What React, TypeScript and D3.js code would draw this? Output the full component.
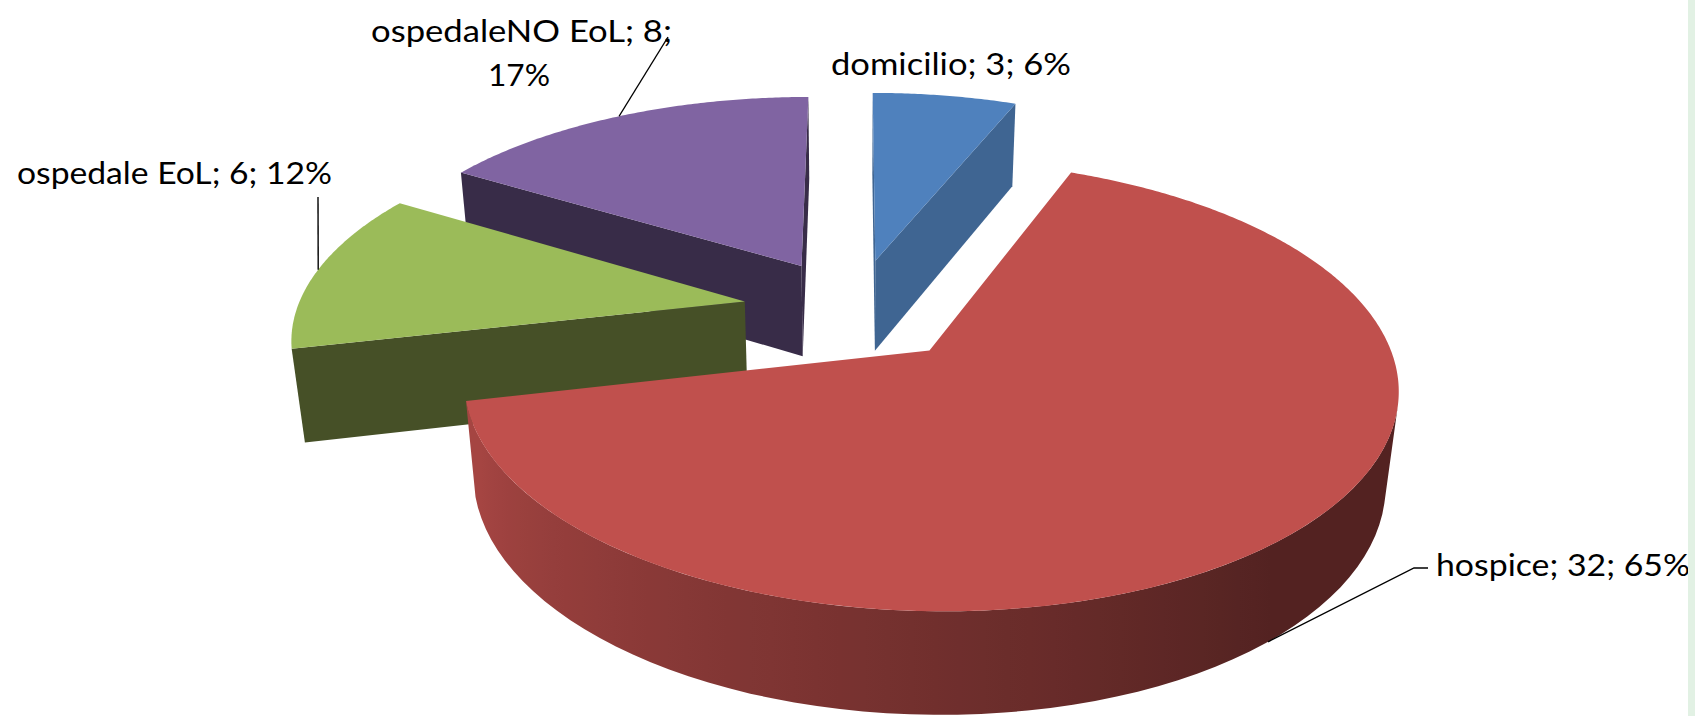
import React from 'react';
import * as d3 from 'd3';

// ---- data ----
const categories = ['domicilio', 'hospice', 'ospedale EoL', 'ospedaleNO EoL'];
const values = [3, 32, 6, 8];
const topColors = ['#4F81BD', '#C0504D', '#9BBB59', '#8064A2'];
const wallColors = ['#3F6592', '#7A3230', '#465027', '#382C48'];

// ---- view settings (3-D camera) ----
const W = 1695;
const H = 716;
const elevation = 0.5458; // radians
const camDist = 5.7287; // in pie radii
const focalX = 2507.7;
const focalY = 2386.4;
const originX = 854.7;
const originY = 401.9;
const pieDepth = 0.2528; // in pie radii
const explode = 0.25; // in pie radii

// label placement (text boxes) and leader anchors
const labelBoxes = [
  [{ x: 831, y: 75, w: 240 }],
  [{ x: 1436, y: 576, w: 254 }],
  [{ x: 17, y: 184, w: 315 }],
  [{ x: 371, y: 42, w: 301 }, { x: 488, y: 86, w: 62 }],
];
const leaderStart: ([number, number][] | null)[] = [
  null,
  [[1428, 568], [1414, 568]],
  [[318, 197]],
  [[668, 37]],
];
const leaderOnTop = [true, false, true, true];

const arcs = d3.pie<number>().sort(null).value((d) => d).startAngle(0).endAngle(2 * Math.PI)(values);

// percentages (largest remainder rounding)
const total = d3.sum(values);
const raw = values.map((v) => (v / total) * 100);
const pct = raw.map((v) => Math.floor(v));
d3.range(values.length)
  .sort((a, b) => raw[b] - pct[b] - (raw[a] - pct[a]))
  .slice(0, 100 - d3.sum(pct))
  .forEach((i) => { pct[i] += 1; });

const sinE = Math.sin(elevation);
const cosE = Math.cos(elevation);
const cam: [number, number, number] = [0, -camDist * cosE, camDist * sinE];

function project(x: number, y: number, z: number): [number, number] {
  const depth = camDist + y * cosE - z * sinE;
  const up = y * sinE + z * cosE;
  return [originX + (focalX * x) / depth, originY - (focalY * up) / depth];
}
function offsetOf(i: number): [number, number] {
  const m = (arcs[i].startAngle + arcs[i].endAngle) / 2;
  return [explode * Math.sin(m), explode * Math.cos(m)];
}
function rim3(i: number, th: number | null, z: number): [number, number, number] {
  const [ox, oy] = offsetOf(i);
  if (th === null) return [ox, oy, z];
  return [ox + Math.sin(th), oy + Math.cos(th), z];
}
function rim(i: number, th: number | null, z: number): [number, number] {
  const q = rim3(i, th, z);
  return project(q[0], q[1], q[2]);
}
const facing = (n: [number, number], q: [number, number, number]) =>
  n[0] * (cam[0] - q[0]) + n[1] * (cam[1] - q[1]) > 0;

const polygon = (pts: [number, number][]) => (d3.line()(pts) || '') + 'Z';

function sideShade(th: number) {
  const deg = (th * 180) / Math.PI;
  return 0.43 + 0.43 * Math.max(0, Math.min(1, (deg - 140) / 110));
}

function Pie3D() {
  const order = d3.range(arcs.length).sort((a, b) => offsetOf(b)[1] - offsetOf(a)[1]);
  const defs: any[] = [];
  const shapes: any[] = [];
  for (const i of order) {
    const a = arcs[i];
    const span = a.endAngle - a.startAngle;
    const N = Math.max(4, Math.ceil(span / (Math.PI / 360)));
    const base = d3.rgb(topColors[i]);

    // outer curved wall: visible contiguous runs
    const runs: number[][] = [];
    let cur: number[] = [];
    for (let k = 0; k < N; k++) {
      const tm = a.startAngle + (span * (k + 0.5)) / N;
      if (facing([Math.sin(tm), Math.cos(tm)], rim3(i, tm, pieDepth / 2))) cur.push(k);
      else if (cur.length) { runs.push(cur); cur = []; }
    }
    if (cur.length) runs.push(cur);
    runs.forEach((run, ri) => {
      const t0 = a.startAngle + (span * run[0]) / N;
      const t1 = a.startAngle + (span * (run[run.length - 1] + 1)) / N;
      const ts = d3.range(0, 61).map((k) => t0 + ((t1 - t0) * k) / 60);
      const topPts = ts.map((t) => rim(i, t, pieDepth));
      const botPts = ts.map((t) => rim(i, t, 0)).reverse();
      const xs = ts.map((t) => rim(i, t, pieDepth / 2)[0]);
      const x0 = d3.min(xs)!, x1 = d3.max(xs)!;
      const id = `side-${i}-${ri}`;
      const stops = ts
        .map((t, k) => ({ off: (xs[k] - x0) / Math.max(1, x1 - x0), f: sideShade(t) }))
        .sort((p, q) => p.off - q.off);
      defs.push(
        <linearGradient key={id} id={id} gradientUnits="userSpaceOnUse" x1={x0} y1={0} x2={x1} y2={0}>
          {stops.map((s, k) => (
            <stop key={k} offset={s.off} stopColor={d3.rgb(base.r * s.f, base.g * s.f, base.b * s.f).toString()} />
          ))}
        </linearGradient>,
      );
      shapes.push(<path key={id} d={polygon([...topPts, ...botPts])} fill={`url(#${id})`} />);
    });

    // radial walls
    const walls: [number, [number, number]][] = [
      [a.startAngle, [-Math.cos(a.startAngle), Math.sin(a.startAngle)]],
      [a.endAngle, [Math.cos(a.endAngle), -Math.sin(a.endAngle)]],
    ];
    walls.forEach(([th, n], wi) => {
      const q0 = rim3(i, null, pieDepth / 2);
      const q1 = rim3(i, th, pieDepth / 2);
      const qm: [number, number, number] = [(q0[0] + q1[0]) / 2, (q0[1] + q1[1]) / 2, pieDepth / 2];
      if (!facing(n, qm)) return;
      shapes.push(
        <path
          key={`wall-${i}-${wi}`}
          d={polygon([rim(i, null, pieDepth), rim(i, th, pieDepth), rim(i, th, 0), rim(i, null, 0)])}
          fill={wallColors[i]}
        />,
      );
    });

    // top face
    const top: [number, number][] = [rim(i, null, pieDepth)];
    for (let k = 0; k <= N; k++) top.push(rim(i, a.startAngle + (span * k) / N, pieDepth));
    shapes.push(<path key={`top-${i}`} d={polygon(top)} fill={topColors[i]} />);
  }

  // labels + leaders
  const labels = categories.map((c, i) => {
    const lines =
      labelBoxes[i].length > 1
        ? [`${c}; ${values[i]};`, `${pct[i]}%`]
        : [`${c}; ${values[i]}; ${pct[i]}%`];
    const m = (arcs[i].startAngle + arcs[i].endAngle) / 2;
    const start = leaderStart[i];
    const end = rim(i, m, leaderOnTop[i] ? pieDepth : 0);
    return (
      <g key={`lab-${i}`}>
        {start && (
          <path d={d3.line()([...start, end]) || ''} fill="none" stroke="#000" strokeWidth={1.4} />
        )}
        {lines.map((t, k) => (
          <text
            key={k}
            x={labelBoxes[i][k].x}
            y={labelBoxes[i][k].y}
            textLength={labelBoxes[i][k].w}
            lengthAdjust="spacingAndGlyphs"
            fontFamily="Lato, 'Open Sans', sans-serif"
            fontWeight={400}
            fontSize={31}
            fill="#000"
          >
            {t}
          </text>
        ))}
      </g>
    );
  });

  return (
    <g>
      <defs>{defs}</defs>
      {shapes}
      {labels}
    </g>
  );
}

export default function App() {
  return (
    <svg width={W} height={H} style={{ position: 'absolute', left: 0, top: 0, background: '#fff' }}>
      <rect width={W} height={H} fill="#fff" />
      <Pie3D />
      <rect x={1688} y={0} width={7} height={H} fill="#E2F1E4" />
    </svg>
  );
}
